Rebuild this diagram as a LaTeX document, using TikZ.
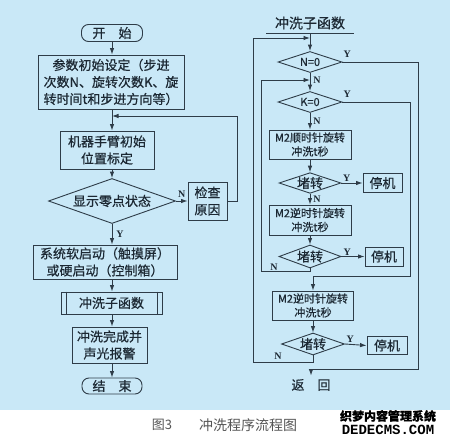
\documentclass[tikz,border=0pt]{standalone}
\usepackage{fontspec}
\setmainfont{Noto Sans CJK SC}[FakeBold=0.5]
\newfontfamily\plaincjk{Noto Sans CJK SC}
\newfontfamily\latserif{Liberation Serif}
\newfontfamily\latmono{Liberation Mono}
\usetikzlibrary{positioning, shapes.geometric, arrows.meta}
\definecolor{PanelBlue}{HTML}{C9E8F7}
\definecolor{LineSlate}{HTML}{2E3C48}
\definecolor{InkDark}{HTML}{1C2833}
\definecolor{CaptionGray}{HTML}{555555}

\begin{document}
\begin{tikzpicture}[x=1pt,y=-1pt,
  every node/.style={text=InkDark,font=\fontsize{13}{17}\selectfont},
  box/.style={draw=LineSlate,line width=0.9pt,align=center,inner sep=1pt},
  smallbox/.style={box,font=\fontsize{11}{14}\selectfont},
  term/.style={box,rounded corners=7pt},
  dec/.style={draw=LineSlate,line width=0.9pt,diamond,aspect=3,inner sep=0pt},
  arr/.style={draw=LineSlate,line width=0.9pt,-{Latex[length=6.5pt,width=4.5pt]}},
  link/.style={draw=LineSlate,line width=0.9pt},
  yn/.style={font=\latserif\bfseries\fontsize{10}{10}\selectfont,inner sep=1pt}]

% panel and page
\fill[PanelBlue] (0,0) rectangle (450,410);
\useasboundingbox (0,0) rectangle (450,447);

% main program
\node[term,minimum width=61pt,minimum height=17pt] (start) at (112,33) {开\quad 始};
\node[box,minimum width=146pt,minimum height=54pt] (param) at (111,82)
  {参数初始设定（步进\\次数N、旋转次数K、旋\\转时间t和步进方向等）};
\node[box,minimum width=94pt,minimum height=38pt] (arm) at (107,150) {机器手臂初始\\位置标定};
\node[dec,minimum width=127pt,minimum height=45pt] (zero) at (112,201) {显示零点状态};
\node[box,minimum width=39pt,minimum height=38pt] (check) at (207.5,201) {检查\\原因};
\node[box,minimum width=144pt,minimum height=34pt] (boot) at (105,262)
  {系统软启动（触摸屏）\\或硬启动（控制箱）};
\node[box,minimum width=101pt,minimum height=22pt] (sub) at (111.5,303) {冲洗子函数};
\draw[link] ([xshift=6pt]sub.north west) -- ([xshift=6pt]sub.south west);
\draw[link] ([xshift=-5pt]sub.north east) -- ([xshift=-5pt]sub.south east);
\node[box,minimum width=75pt,minimum height=36pt] (done) at (109.5,345) {冲洗完成并\\声光报警};
\node[term,minimum width=60pt,minimum height=16pt] (stop) at (112,386) {结\quad 束};

\coordinate (back) at (112,116);
\draw[arr] (start.south) -- (param.north -| start);
\draw[arr] (param.south -| start) -- (arm.north -| start);
\draw[arr] (arm.south -| start) -- (zero.north);
\draw[arr] (zero.east) -- node[yn,above=2pt]{N} (check.west);
\draw[arr] (check.east) -- ++(10,0) |- (back);
\draw[arr] (zero.south) -- node[yn,right=3pt]{Y} (boot.north -| start);
\draw[arr] (boot.south -| start) -- (sub.north -| start);
\draw[arr] (sub.south -| start) -- (done.north -| start);
\draw[arr] (done.south -| start) -- (stop.north);

% flushing subroutine
\node[font=\fontsize{14}{14}\selectfont] (title) at (310,23) {冲洗子函数};
\coordinate (tbar) at (310,33);
\draw[link] ([xshift=-44pt]tbar) -- ([xshift=44pt]tbar);
\node[dec,minimum width=64pt,minimum height=21pt,font=\fontsize{11}{11}\selectfont] (nzero) at (310,62) {N=0};
\node[dec,minimum width=64pt,minimum height=21pt,font=\fontsize{11}{11}\selectfont] (kzero) at (310,102) {K=0};
\node[smallbox,minimum width=82pt,minimum height=29pt] (cw) at (310,144.5) {M2顺时针旋转\\冲洗t秒};
\node[dec,minimum width=62pt,minimum height=20pt] (jam1) at (310,183) {堵转};
\node[box,minimum width=39pt,minimum height=19pt] (halt1) at (382.5,183) {停机};
\node[smallbox,minimum width=82pt,minimum height=30pt] (ccw1) at (310,220) {M2逆时针旋转\\冲洗t秒};
\node[dec,minimum width=62pt,minimum height=23pt] (jam2) at (310,256.5) {堵转};
\node[box,minimum width=38pt,minimum height=19pt] (halt2) at (384,256.5) {停机};
\node[smallbox,minimum width=81pt,minimum height=29pt] (ccw2) at (313,305.5) {M2逆时针旋转\\冲洗t秒};
\node[dec,minimum width=63pt,minimum height=22pt] (jam3) at (313,344) {堵转};
\node[box,minimum width=40pt,minimum height=18pt] (halt3) at (387,345.5) {停机};
\node (ret) at (311,385) {返\quad 回};

\coordinate (jn) at (310,38);
\coordinate (jk) at (310,80);
\coordinate (jr) at (311,369);
\draw[arr] (tbar) -- (nzero.north);
\draw[arr] (nzero.south) -- node[yn,right=2pt,pos=0.4]{N} (kzero.north);
\draw[arr] (kzero.south) -- node[yn,right=2pt]{N} (cw.north);
\draw[arr] (cw.south) -- (jam1.north);
\draw[arr] (jam1.east) -- node[yn,above,pos=0.25]{Y} (halt1.west);
\draw[arr] (jam1.south) -- node[yn,right=2pt]{N} (ccw1.north);
\draw[arr] (ccw1.south) -- (jam2.north);
\draw[arr] (jam2.east) -- node[yn,above,pos=0.25]{Y} (halt2.west);
\draw[arr] (ccw2.south) -- (jam3.north);
\draw[arr] (jam3.east) -- node[yn,above,pos=0.25]{Y} (halt3.west);

\draw[arr] (jam2.south) -- ++(0,3) -| ([xshift=-49pt]jk) -- (jk);
\node[yn] at ([xshift=-36pt,yshift=1pt]jam2.south) {N};
\draw[arr] (jam3.south) -- ++(0,7) -| ([xshift=-57pt]jn) -- (jn);
\node[yn] at ([xshift=-35pt,yshift=-1pt]jam3.south) {N};

\draw[arr] (nzero.east) -| ([xshift=107pt]jr) -- (jr) -- (ret.north);
\node[yn,anchor=south west] at ([yshift=3pt]nzero.east) {Y};
\draw[arr] (kzero.east) -| ([xshift=97pt,yshift=14pt]ccw2.north) -- ([yshift=14pt]ccw2.north) -- (ccw2.north);
\node[yn,anchor=south west] at ([yshift=3pt]kzero.east) {Y};

% caption
\node[text=CaptionGray,font=\plaincjk\fontsize{13}{13}\selectfont] (fignum) at (162,425) {图3};
\node[text=CaptionGray,font=\plaincjk\fontsize{14}{14}\selectfont] (figname) at (248,425) {冲洗程序流程图};
\node[text=black,font=\bfseries\fontsize{12}{12}\selectfont] (mark) at (388,416) {织梦内容管理系统};
\node[text=black,font=\latmono\bfseries\fontsize{14}{14}\selectfont,below=0pt of mark,inner sep=0pt] (site) {DEDECMS.COM};
\end{tikzpicture}
\end{document}
